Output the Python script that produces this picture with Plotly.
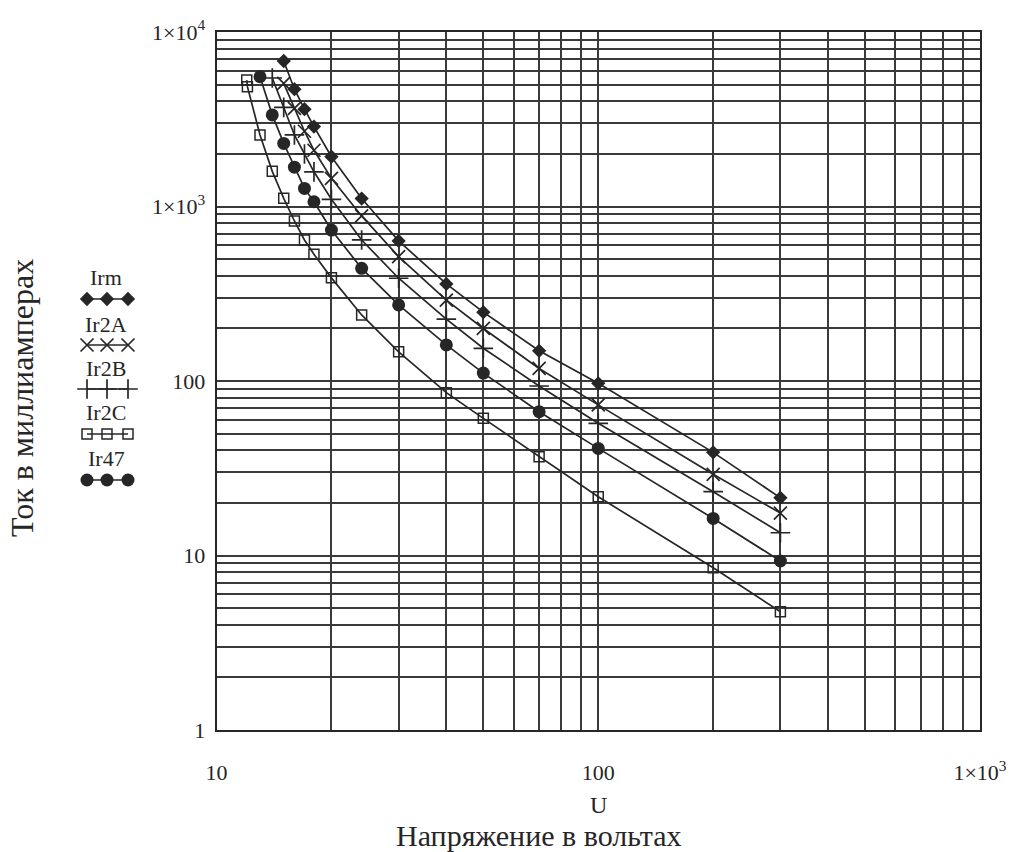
import plotly.graph_objects as go

# ---------------- data ----------------
U_irm = [15, 16, 17, 18, 20, 24, 30, 40, 50, 70, 100, 200, 300]
I_irm = [6820, 4700, 3610, 2870, 1930, 1110, 635, 360, 248, 149, 97, 39, 21.4]

U_ir2a = [15, 16, 17, 18, 20, 24, 30, 40, 50, 70, 100, 200, 300]
I_ir2a = [5080, 3650, 2700, 2100, 1450, 883, 516, 291, 200, 118, 73, 29.2, 17.5]

U_ir2b = [14, 15, 16, 17, 18, 20, 24, 30, 40, 50, 70, 100, 200, 300]
I_ir2b = [5450, 3700, 2570, 2000, 1580, 1100, 643, 388, 226, 154, 93.6, 57.2, 23.2, 13.5]

U_ir2c = [12, 12.05, 13, 14, 15, 16, 17, 18, 20, 24, 30, 40, 50, 70, 100, 200, 300]
I_ir2c = [5300, 4860, 2570, 1590, 1114, 826, 643, 532, 390, 239, 147, 85.7, 61.1, 36.8, 21.7, 8.5, 4.76]

U_ir47 = [13, 14, 15, 16, 17, 18, 20, 24, 30, 40, 50, 70, 100, 200, 300]
I_ir47 = [5540, 3350, 2300, 1680, 1270, 1065, 733, 442, 273, 161, 111, 66.7, 41.1, 16.3, 9.3]

names = ["Irm", "Ir2A", "Ir2B", "Ir2C", "Ir47"]
x_tickvals = [10, 100, 1000]
x_ticktext = ["10", "100", "1×10<sup>3</sup>"]
y_tickvals = [1, 10, 100, 1000, 10000]
y_ticktext = ["1", "10", "100", "1×10<sup>3</sup>", "1×10<sup>4</sup>"]

# ---------------- styling / layout ----------------
W, H = 1014, 852
PL, PR, PT, PB = 216.5, 980, 32, 730
INK = "#262626"
GRID = "#3a3a3a"
FONT = "Liberation Serif"

styles = {
    "Irm":  dict(symbol="diamond", size=11, color=INK, line=dict(color=INK, width=0)),
    "Ir2A": dict(symbol="x-thin-open", size=13, color=INK, line=dict(color=INK, width=1.7)),
    "Ir2B": dict(symbol="cross-thin-open", size=14, color=INK, line=dict(color=INK, width=1.7)),
    "Ir2C": dict(symbol="square-open", size=10, color=INK, line=dict(color=INK, width=1.5)),
    "Ir47": dict(symbol="circle", size=13, color=INK, line=dict(color=INK, width=0)),
}
data = {
    "Irm": (U_irm, I_irm),
    "Ir2A": (U_ir2a, I_ir2a),
    "Ir2B": (U_ir2b, I_ir2b),
    "Ir2C": (U_ir2c, I_ir2c),
    "Ir47": (U_ir47, I_ir47),
}

fig = go.Figure()
for n in names:
    xs, ys = data[n]
    fig.add_trace(go.Scatter(x=xs, y=ys, mode="lines+markers", name=n,
                             line=dict(color=INK, width=1.7),
                             marker=styles[n], showlegend=False,
                             xaxis="x", yaxis="y"))

# custom legend (text above a short sample line with three markers)
leg_line_y = [299, 345, 389, 434, 480]
leg_text_y = [278, 325, 369, 413, 459]
leg_x = [87, 107, 128]
for n, ly, ty in zip(names, leg_line_y, leg_text_y):
    fig.add_trace(go.Scatter(x=leg_x, y=[ly] * 3, mode="lines+markers",
                             line=dict(color=INK, width=1.7), marker=styles[n],
                             showlegend=False, xaxis="x2", yaxis="y2",
                             hoverinfo="skip"))
    fig.add_annotation(x=106, y=ty, xref="x2", yref="y2", text=n,
                       xanchor="center", yanchor="middle",
                       showarrow=False, font=dict(family=FONT, size=22, color=INK))

minor_x = [m * 10 ** e for e in (1, 2) for m in range(2, 10)]
minor_y = [m * 10 ** e for e in (0, 1, 2, 3) for m in range(2, 10)]

fig.update_layout(
    width=W, height=H,
    margin=dict(l=0, r=0, t=0, b=0, autoexpand=False),
    paper_bgcolor="white", plot_bgcolor="white",
    font=dict(family=FONT, color=INK),
    xaxis=dict(type="log", range=[1, 3], domain=[PL / W, PR / W], anchor="y",
               automargin=False,
               tickvals=x_tickvals, ticktext=x_ticktext, ticks="",
               ticklabelstandoff=22,
               tickfont=dict(family=FONT, size=22, color=INK),
               showgrid=True, gridcolor=GRID, gridwidth=1.5,
               minor=dict(tickvals=minor_x, showgrid=True, gridcolor=GRID,
                          gridwidth=1.5, ticks=""),
               showline=True, linecolor=INK, linewidth=1.8, mirror=True,
               zeroline=False),
    yaxis=dict(type="log", range=[0, 4], domain=[1 - PB / H, 1 - PT / H], anchor="x",
               automargin=False,
               tickvals=y_tickvals, ticktext=y_ticktext, ticks="",
               ticklabelstandoff=5,
               tickfont=dict(family=FONT, size=22, color=INK),
               showgrid=True, gridcolor=GRID, gridwidth=1.5,
               minor=dict(tickvals=minor_y, showgrid=True, gridcolor=GRID,
                          gridwidth=1.5, ticks=""),
               showline=True, linecolor=INK, linewidth=1.8, mirror=True,
               zeroline=False),
    xaxis2=dict(domain=[70 / W, 150 / W], range=[70, 150], anchor="y2",
                visible=False, fixedrange=True, automargin=False),
    yaxis2=dict(domain=[1 - 500 / H, 1 - 260 / H], range=[500, 260], anchor="x2",
                visible=False, fixedrange=True, automargin=False),
)

fig.add_annotation(x=598 / W, y=1 - 805 / H, xref="paper", yref="paper", text="U",
                   xanchor="center", yanchor="middle",
                   showarrow=False, font=dict(family=FONT, size=24, color=INK))
fig.add_annotation(x=539 / W, y=1 - 835 / H, xref="paper", yref="paper",
                   text="Напряжение в вольтах", showarrow=False,
                   xanchor="center", yanchor="middle",
                   font=dict(family=FONT, size=30, color=INK))
fig.add_annotation(x=22 / W, y=1 - 398 / H, xref="paper", yref="paper",
                   text="Ток в миллиамперах", textangle=-90, showarrow=False,
                   xanchor="center", yanchor="middle",
                   font=dict(family=FONT, size=32, color=INK))

fig.write_html("out.html")
